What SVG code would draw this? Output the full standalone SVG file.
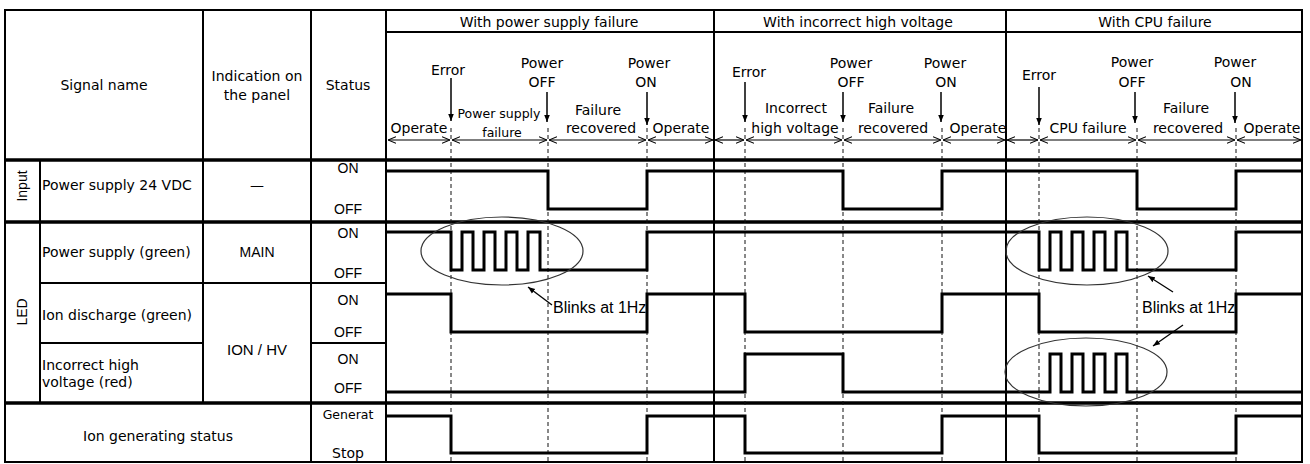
<svg xmlns="http://www.w3.org/2000/svg" width="1310" height="464" viewBox="0 0 1310 464">
<style>
text{font-family:"DejaVu Sans",sans-serif;font-size:14px;fill:#000}
.c{text-anchor:middle}
.ar{font-family:"Liberation Sans",Arial,sans-serif}
.sm{font-size:12.5px}
.st{font-size:13px}
.hv{font-size:15px}
.gen{font-size:12.5px}
.blk{font-size:16px}
.grid{stroke:#000;stroke-width:2;fill:none}
.thick{stroke:#000;stroke-width:3.5}
.sig{fill:none;stroke:#000;stroke-width:3;stroke-linejoin:miter}
.dash{stroke:#111;stroke-width:1;stroke-dasharray:4 3}
.ell{fill:none;stroke:#333;stroke-width:1.2}
.ev{stroke:#000;stroke-width:1.5;marker-end:url(#tri)}
.dim{stroke:#000;stroke-width:1.2;marker-start:url(#open);marker-end:url(#open)}
.note{stroke:#000;stroke-width:1.3;marker-end:url(#tri)}
</style>
<defs>
<marker id="tri" viewBox="0 0 10 10" refX="10" refY="5" markerWidth="7" markerHeight="7" markerUnits="userSpaceOnUse" orient="auto"><path d="M0,1 L10,5 L0,9 z" fill="#000"/></marker>
<marker id="open" viewBox="0 0 10 10" refX="10" refY="5" markerWidth="8" markerHeight="8" markerUnits="userSpaceOnUse" orient="auto-start-reverse"><path d="M0,1 L10,5 L0,9" fill="none" stroke="#000" stroke-width="1.3"/></marker>
</defs>
<rect width="1310" height="464" fill="#fff"/>

<g id="table">
<rect class="grid" x="5" y="10" width="1297" height="452"/>
<line class="grid" x1="386" y1="32" x2="1302" y2="32" stroke-width="1.5"/>
<line class="grid" x1="40" y1="160" x2="40" y2="403"/>
<line class="grid" x1="203" y1="10" x2="203" y2="403"/>
<line class="grid" x1="311" y1="10" x2="311" y2="462"/>
<line class="grid" x1="386" y1="10" x2="386" y2="462" stroke-width="2.5"/>
<line class="grid" x1="714" y1="10" x2="714" y2="462"/>
<line class="grid" x1="1006" y1="10" x2="1006" y2="462"/>
<line class="thick" x1="5" y1="160" x2="1302" y2="160"/>
<line class="thick" x1="5" y1="222" x2="1302" y2="222"/>
<line class="thick" x1="5" y1="403" x2="1302" y2="403"/>
<line class="grid" x1="40" y1="283" x2="386" y2="283"/>
<line class="grid" x1="40" y1="343" x2="203" y2="343"/>
<line class="grid" x1="311" y1="343" x2="386" y2="343"/>
</g>

<g id="header">
<text class="c" x="104" y="90">Signal name</text>
<text class="c" x="257" y="81">Indication on</text>
<text class="c" x="257" y="100">the panel</text>
<text class="c" x="348" y="90">Status</text>
<text class="c" x="549" y="27">With power supply failure</text>
<text class="c" x="858" y="27">With incorrect high voltage</text>
<text class="c" x="1155" y="27">With CPU failure</text>
</g>

<g id="events">
<text class="c" x="448" y="75">Error</text>
<text class="c" x="542" y="68">Power</text>
<text class="c" x="542" y="87">OFF</text>
<text class="c" x="649" y="68">Power</text>
<text class="c" x="646" y="87">ON</text>
<text class="c" x="419" y="133">Operate</text>
<text class="c sm" x="499" y="118">Power supply</text>
<text class="c sm" x="502" y="137">failure</text>
<text class="c" x="598" y="115">Failure</text>
<text class="c" x="601" y="133">recovered</text>
<text class="c" x="681" y="133">Operate</text>

<text class="c" x="749" y="77">Error</text>
<text class="c" x="851" y="68">Power</text>
<text class="c" x="851" y="87">OFF</text>
<text class="c" x="945" y="68">Power</text>
<text class="c" x="946" y="87">ON</text>
<text class="c" x="796" y="113">Incorrect</text>
<text class="c" x="795" y="133">high voltage</text>
<text class="c" x="891" y="113">Failure</text>
<text class="c" x="893" y="133">recovered</text>
<text class="c" x="978" y="133">Operate</text>

<text class="c" x="1039" y="80">Error</text>
<text class="c" x="1132" y="67">Power</text>
<text class="c" x="1132" y="87">OFF</text>
<text class="c" x="1235" y="67">Power</text>
<text class="c" x="1241" y="87">ON</text>
<text class="c" x="1088" y="133">CPU failure</text>
<text class="c" x="1186" y="113">Failure</text>
<text class="c" x="1188" y="133">recovered</text>
<text class="c" x="1272" y="133">Operate</text>
</g>

<g id="row-input">
<text class="c ar" transform="translate(22,186) rotate(-90)" dominant-baseline="central">Input</text>
<text x="42" y="190">Power supply 24 VDC</text>
<text class="c" x="257" y="190">—</text>
<text class="c ar" x="348" y="173">ON</text>
<text class="c ar" x="348" y="214">OFF</text>
</g>

<g id="row-led">
<text class="c ar" transform="translate(22,312) rotate(-90)" dominant-baseline="central">LED</text>
<text x="42" y="257">Power supply (green)</text>
<text class="c ar" x="257" y="257">MAIN</text>
<text class="c ar" x="348" y="238">ON</text>
<text class="c ar" x="348" y="278">OFF</text>
<text x="42" y="320">Ion discharge (green)</text>
<text class="c ar hv" x="257" y="355">ION / HV</text>
<text class="c ar" x="348" y="305">ON</text>
<text class="c ar" x="348" y="337">OFF</text>
<text x="42" y="370">Incorrect high</text>
<text x="42" y="387">voltage (red)</text>
<text class="c ar" x="348" y="364">ON</text>
<text class="c ar" x="348" y="393">OFF</text>
</g>

<g id="row-iongen">
<text class="c" x="158" y="441">Ion generating status</text>
<text class="c gen" x="348" y="419">Generat</text>
<text class="c" x="348" y="458">Stop</text>
</g>

<g id="guides">
<line class="dash" x1="451" y1="128" x2="451" y2="462"/>
<line class="dash" x1="548" y1="128" x2="548" y2="462"/>
<line class="dash" x1="647" y1="128" x2="647" y2="462"/>
<line class="dash" x1="745" y1="128" x2="745" y2="462"/>
<line class="dash" x1="843" y1="128" x2="843" y2="462"/>
<line class="dash" x1="942" y1="128" x2="942" y2="462"/>
<line class="dash" x1="1039" y1="128" x2="1039" y2="462"/>
<line class="dash" x1="1137" y1="128" x2="1137" y2="462"/>
<line class="dash" x1="1236" y1="128" x2="1236" y2="462"/>
</g>

<g id="signals">
<polyline class="sig" points="386,171 548,171 548,209 647,209 647,171 843,171 843,209 942,209 942,171 1137,171 1137,209 1236,209 1236,171 1302,171"/>
<polyline class="sig" points="386,232 451,232 451,270 462,270 462,232 473,232 473,270 484,270 484,232 495,232 495,270 506,270 506,232 517,232 517,270 528,270 528,232 540,232 540,270 647,270 647,232 1039,232 1039,270 1050,270 1050,232 1061,232 1061,270 1072,270 1072,232 1083,232 1083,270 1094,270 1094,232 1105,232 1105,270 1116,270 1116,232 1127,232 1127,270 1236,270 1236,232 1302,232"/>
<polyline class="sig" points="386,294 451,294 451,332 647,332 647,294 745,294 745,332 942,332 942,294 1039,294 1039,332 1236,332 1236,294 1302,294"/>
<polyline class="sig" points="386,392 745,392 745,354 843,354 843,392 1050,392 1050,354 1061,354 1061,392 1072,392 1072,354 1083,354 1083,392 1094,392 1094,354 1105,354 1105,392 1116,392 1116,354 1127,354 1127,392 1302,392"/>
<polyline class="sig" points="386,416 451,416 451,453 647,453 647,416 745,416 745,453 942,453 942,416 1039,416 1039,453 1236,453 1236,416 1302,416"/>
</g>

<g id="annotations">
<ellipse class="ell" cx="502" cy="251" rx="81" ry="34"/>
<ellipse class="ell" cx="1087" cy="251" rx="81" ry="34"/>
<ellipse class="ell" cx="1086" cy="372" rx="81" ry="34"/>
<text class="ar blk" x="553" y="313">Blinks at 1Hz</text>
<text class="ar blk" x="1142" y="313">Blinks at 1Hz</text>
</g>

<g id="connectors">
<line class="ev" x1="451" y1="78" x2="451" y2="121"/>
<line class="ev" x1="547" y1="92" x2="547" y2="122"/>
<line class="ev" x1="647" y1="92" x2="647" y2="125"/>
<line class="ev" x1="745" y1="82" x2="745" y2="122"/>
<line class="ev" x1="843" y1="92" x2="843" y2="122"/>
<line class="ev" x1="941" y1="92" x2="941" y2="122"/>
<line class="ev" x1="1039" y1="87" x2="1039" y2="125"/>
<line class="ev" x1="1135" y1="92" x2="1135" y2="123"/>
<line class="ev" x1="1235" y1="92" x2="1235" y2="123"/>

<line class="dim" x1="388" y1="140" x2="450" y2="140"/>
<line class="dim" x1="452" y1="140" x2="547" y2="140"/>
<line class="dim" x1="549" y1="140" x2="646" y2="140"/>
<line class="dim" x1="648" y1="140" x2="713" y2="140"/>
<line class="dim" x1="715" y1="140" x2="744" y2="140"/>
<line class="dim" x1="746" y1="140" x2="842" y2="140"/>
<line class="dim" x1="844" y1="140" x2="941" y2="140"/>
<line class="dim" x1="943" y1="140" x2="1005" y2="140"/>
<line class="dim" x1="1007" y1="140" x2="1038" y2="140"/>
<line class="dim" x1="1040" y1="140" x2="1136" y2="140"/>
<line class="dim" x1="1138" y1="140" x2="1235" y2="140"/>
<line class="dim" x1="1237" y1="140" x2="1301" y2="140"/>

<line class="note" x1="552" y1="305" x2="528" y2="287"/>
<line class="note" x1="1173" y1="292" x2="1148" y2="276"/>
<line class="note" x1="1183" y1="325" x2="1153" y2="346"/>
</g>
</svg>
